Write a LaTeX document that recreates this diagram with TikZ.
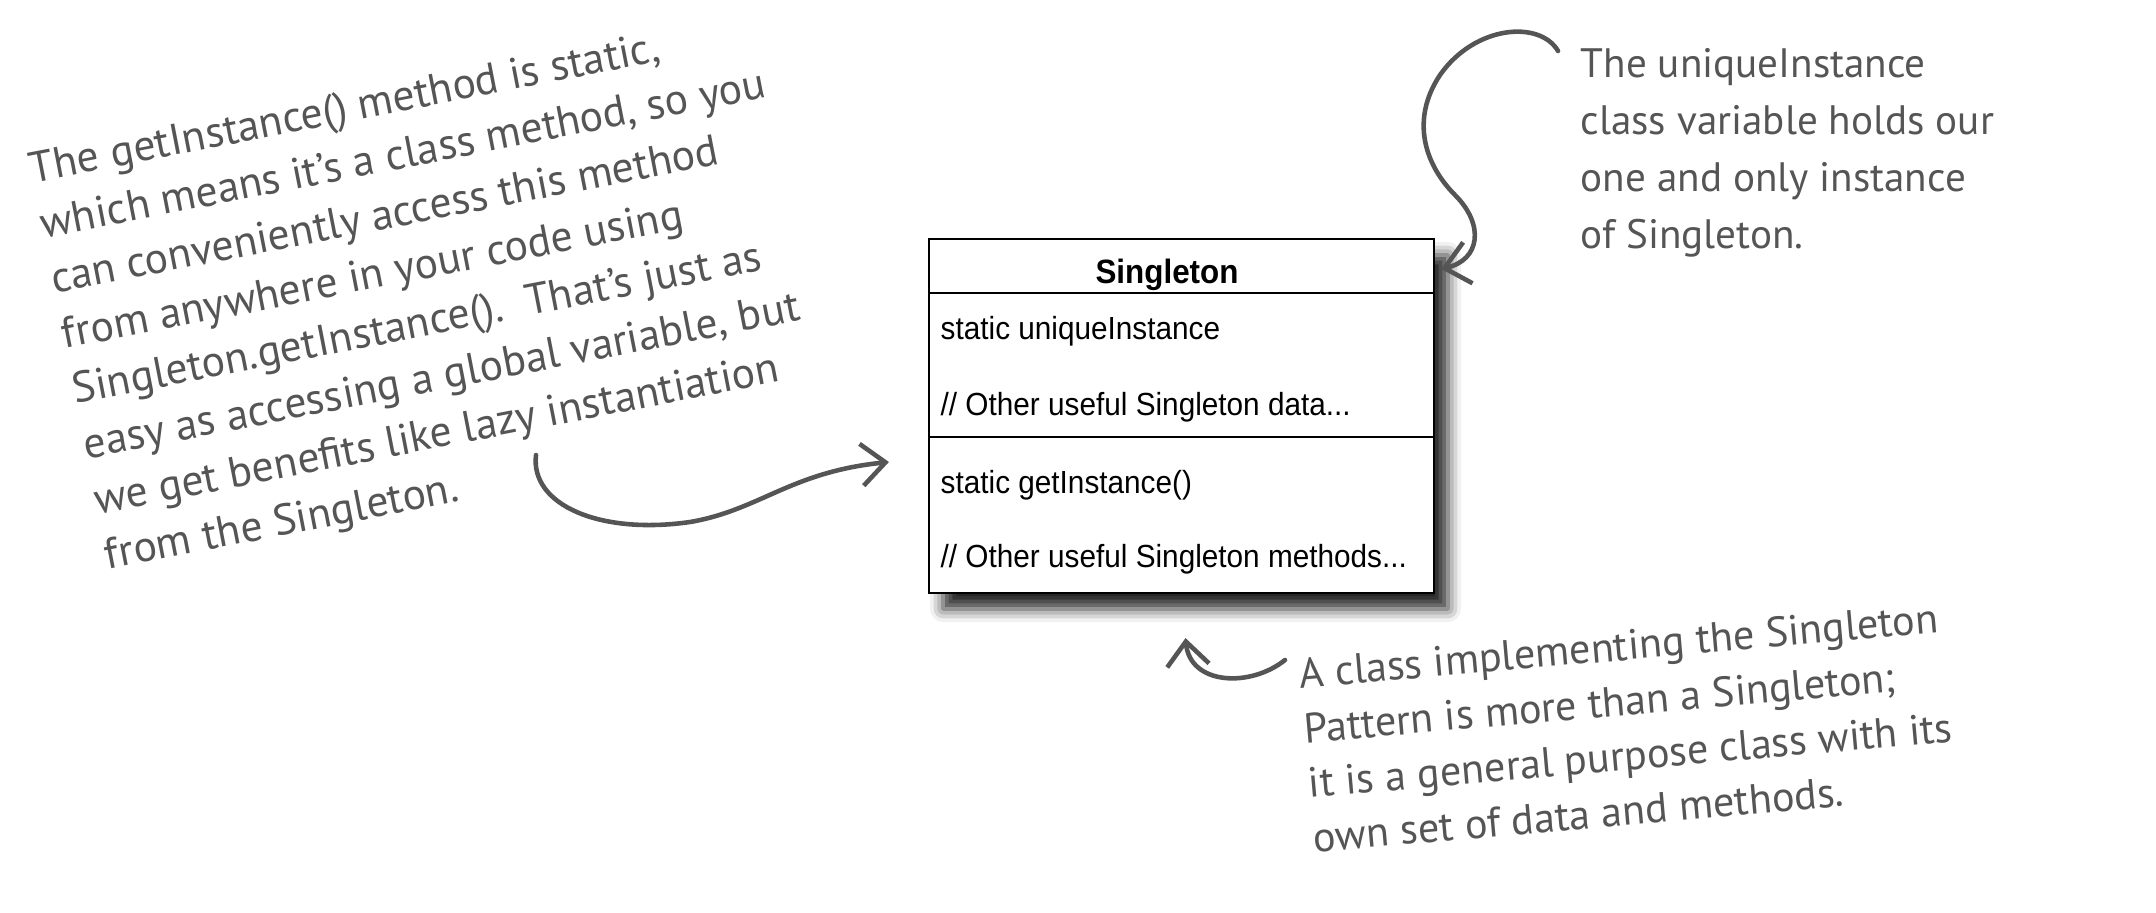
\documentclass[tikz,border=0pt]{standalone}
\usepackage{fontspec}
\usepackage{xcolor}
\usepackage{tikz}
\usetikzlibrary{arrows.meta,positioning,calc,shadows.blur}
\setmainfont{Liberation Sans}
\newfontfamily\umlfont[FakeStretch=0.93]{Liberation Sans}
\newfontfamily\handfont{PT Sans}
\definecolor{pen}{HTML}{555555}

\begin{document}
\begin{tikzpicture}[
    umlbox/.style={draw, line width=0.6pt, fill=white, minimum width=5.05cm, minimum height=3.54cm, inner sep=0pt,
        blur shadow={shadow xshift=0.14cm, shadow yshift=-0.16cm, shadow blur radius=0.13cm, shadow opacity=85}},
    head/.style={font=\umlfont\bfseries\fontsize{9.6}{11}\selectfont, inner sep=0pt, anchor=base},
    row/.style={font=\umlfont\fontsize{9.1}{11}\selectfont, inner sep=0pt, anchor=base west},
    note/.style={font=\handfont\fontsize{12}{15.6}\selectfont, text=pen, align=left, inner sep=0pt, anchor=north west},
    arr/.style={pen, line width=1.3pt, line cap=round, -{Straight Barb[length=2.4mm, width=4.2mm, line width=1.3pt]}},
]
    \useasboundingbox (0,0) rectangle (21.56,-9.12);

    % Class box
    \node[umlbox] (singleton) at (11.815,-4.16) {};
    \node[head] (title) at (11.67,-2.83) {Singleton};
    \node[row] (uniq) at (9.40,-3.39) {static uniqueInstance};
    \node[row] (data) at (9.40,-4.15) {// Other useful Singleton data...};
    \node[row] (getinst) at (9.40,-4.93) {static getInstance()};
    \node[row] (methods) at (9.40,-5.67) {// Other useful Singleton methods...};

    % Compartments
    \coordinate (sep1) at (0,-2.93);
    \coordinate (sep2) at (0,-4.37);
    \draw[line width=0.6pt] (singleton.west |- sep1) -- (singleton.east |- sep1);
    \draw[line width=0.6pt] (singleton.west |- sep2) -- (singleton.east |- sep2);

    % Notes
    \node[note, rotate=11, font=\handfont\fontsize{12.4}{16}\selectfont] (static note) at (0.26,-1.52) {The getInstance() method is static,\\
        which means it’s a class method, so you\\
        can conveniently access this method\\
        from anywhere in your code using\\
        Singleton.getInstance().\ \ That’s just as\\
        easy as accessing a global variable, but\\
        we get benefits like lazy instantiation\\
        from the Singleton.};
    \node[note, font=\handfont\fontsize{11.7}{16.2}\selectfont] (unique note) at (15.80,-0.48) {The uniqueInstance\\
        class variable holds our\\
        one and only instance\\
        of Singleton.};
    \node[note, rotate=5] (class note) at (12.97,-6.58) {A class implementing the Singleton\\
        Pattern is more than a Singleton;\\
        it is a general purpose class with its\\
        own set of data and methods.};

    % Arrows
    \coordinate (unique tail) at (15.58,-0.51);
    \coordinate (static tail) at (5.36,-4.55);
    \coordinate (class tail) at (12.85,-6.60);
    \draw[arr] (unique tail) .. controls (15.40,-0.20) and (14.75,-0.25) .. (14.40,-0.75)
        .. controls (14.10,-1.20) and (14.25,-1.65) .. (14.55,-1.95)
        .. controls (14.85,-2.25) and (14.80,-2.60) .. ($(singleton.north east)+(0.06,-0.31)$);
    \draw[arr] (static tail) .. controls (5.30,-5.05) and (6.00,-5.35) .. (6.90,-5.22)
        .. controls (7.60,-5.10) and (7.90,-4.72) .. ($(singleton.west)+(-0.39,-0.46)$);
    \draw[arr] (class tail) .. controls (12.50,-6.88) and (11.90,-6.85) .. ($(singleton.south)+(0.04,-0.44)$);
\end{tikzpicture}
\end{document}
